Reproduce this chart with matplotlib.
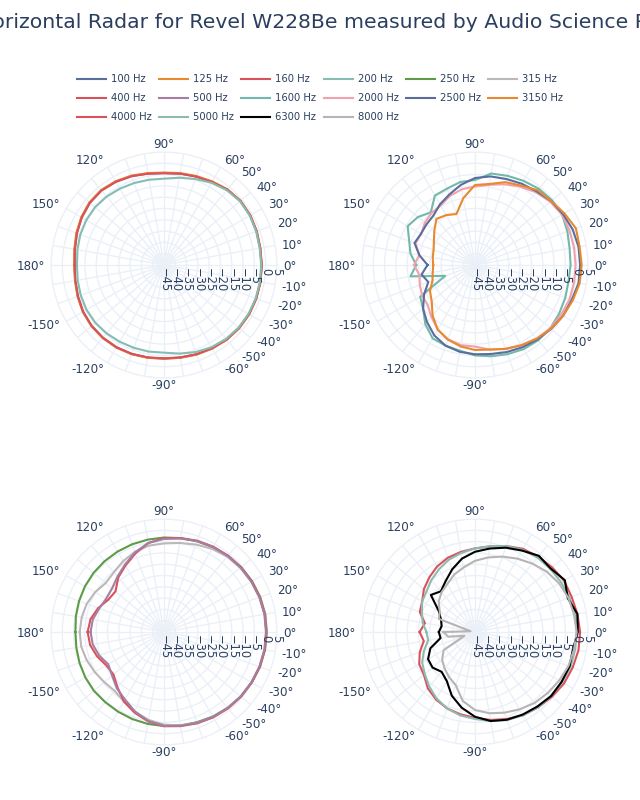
import matplotlib
matplotlib.use('Agg')
import matplotlib.pyplot as plt
from matplotlib.lines import Line2D
import numpy as np

# angles of the measurements (deg)
angles = list(range(-180, 190, 10))

# top-left: low frequencies
hz100 = [-5.4, -5.1, -4.4, -3.6, -3.1, -2.9, -2.9, -3.1, -3.4, -3.6, -3.4, -2.9, -2.4, -1.9, -1.6, -1.5, -1.6, -1.7,
         -1.8, -1.8, -1.4, -1.0, -0.9, -1.4, -2.5, -3.3, -3.9, -4.3, -3.9, -3.1, -2.4, -1.9, -2.1, -2.9, -3.9, -4.9, -5.4]
hz125 = [-5.2, -5.0, -4.3, -3.5, -3.0, -2.8, -2.8, -3.0, -3.3, -3.5, -3.3, -2.8, -2.3, -1.8, -1.5, -1.4, -1.5, -1.6,
         -1.7, -1.7, -1.3, -0.9, -0.8, -1.3, -2.3, -3.1, -3.7, -4.1, -3.7, -2.9, -2.2, -1.7, -1.9, -2.7, -3.7, -4.7, -5.2]
hz160 = [-5.5, -5.2, -4.5, -3.7, -3.2, -3.0, -3.0, -3.2, -3.5, -3.7, -3.5, -3.0, -2.5, -2.0, -1.7, -1.6, -1.6, -1.7,
         -1.8, -1.8, -1.4, -1.0, -0.9, -1.5, -2.6, -3.4, -4.0, -4.4, -4.0, -3.2, -2.5, -2.0, -2.2, -3.0, -4.0, -5.0, -5.5]
hz200 = [-6.5, -6.2, -5.8, -5.4, -5.3, -5.5, -5.8, -6.0, -6.1, -6.2, -5.2, -4.0, -3.0, -2.3, -1.9, -1.8, -1.8, -1.9,
         -2.0, -2.0, -1.6, -1.2, -1.1, -1.8, -3.0, -4.5, -5.8, -6.8, -6.7, -6.4, -6.0, -5.5, -5.2, -5.3, -5.6, -6.1, -6.5]

# top-right: 1600 - 3150 Hz
hz1600 = [-19, -16, -31, -17, -15, -10.8, -7.5, -7, -6.5, -5, -4, -3, -2, -1.5, -1.5, -2, -2.5, -3,
          -2.7, -2.5, -1.5, -0.5, -0.5, -1, -2, -3, -3.9, -7.4, -7.7, -9, -9.5, -14.6, -12, -10.6, -14, -16, -19]
hz2000 = [-18, -20, -19, -18, -17.6, -15, -12, -10, -9, -8.9, -7, -5.5, -4, -2.5, -1.5, -1, -0.5, -0.5,
          -0.5, -0.5, -0.5, -0.5, -1.5, -3, -5, -7, -9, -10.3, -11, -12.5, -14.6, -15, -16, -17.5, -17, -20, -18]
hz2500 = [-24, -21, -23, -19, -15, -12, -9, -7, -6, -5.5, -5, -4, -3, -2, -1, 0, 0.5, 1.5,
          1.5, 1.5, 1, 0, -1, -2.5, -3.5, -4.5, -5.2, -6.5, -9, -11.8, -14, -16.4, -17, -17.4, -16.5, -20, -24]
hz3150 = [-26.5, -26, -25, -22, -20, -15.8, -12, -9.9, -8.4, -7.4, -7, -5.5, -4, -2.5, -1, 0, 1, 2,
          2.2, 2, 2.5, 0.7, -1, -1.8, -4.4, -6, -8.6, -9.6, -15, -21, -19.5, -18.4, -21.5, -24, -25.5, -26, -26.5]

# bottom-left: 250 - 500 Hz
hz250 = [-5.8, -5.6, -5.2, -4.8, -4.5, -4.5, -4.3, -4.0, -3.7, -3.4, -3.0, -2.5, -1.8, -1.2, -0.6, -0.2, 0.2, 0.4,
         0.5, 0.5, 0.3, 0.0, -0.4, -1.0, -1.7, -2.3, -2.8, -3.2, -3.5, -3.7, -3.9, -4.1, -4.3, -4.6, -5.0, -5.4, -5.8]
hz315 = [-7.7, -7.8, -8.6, -9.6, -10.5, -11.0, -9.5, -7.5, -5.5, -4.0, -3.0, -2.2, -1.5, -1.0, -0.6, -0.3, 0.0, 0.2,
         0.3, 0.3, 0.0, -0.4, -0.9, -1.5, -2.5, -3.8, -5.0, -5.8, -6.2, -7.3, -8.8, -10.5, -11.3, -9.8, -8.6, -8.0, -7.7]
hz400 = [-11.2, -11.8, -13.5, -15.5, -15.8, -13.0, -9.5, -7.0, -4.8, -3.3, -2.7, -2.0, -1.4, -0.9, -0.5, -0.2, 0.1, 0.3,
         0.3, 0.3, 0.1, -0.2, -0.5, -0.9, -1.4, -2.0, -2.8, -3.5, -5.0, -8.0, -11.0, -13.5, -17.0, -16.5, -14.0, -12.0, -11.2]
hz500 = [-12.5, -13.0, -14.5, -16.5, -15.0, -12.5, -10.5, -7.5, -5.0, -3.5, -2.9, -2.2, -1.6, -1.1, -0.7, -0.4, -0.1, 0.1,
         0.1, 0.1, -0.1, -0.4, -0.7, -1.1, -1.6, -2.2, -3.0, -3.8, -5.0, -7.5, -10.5, -13.0, -15.0, -15.5, -14.5, -13.0, -12.5]

# bottom-right: 4000 - 8000 Hz
hz4000 = [-20.5, -22.0, -19.0, -16.5, -15.5, -12.5, -10.5, -9.0, -8.0, -7.0, -5.5, -4.0, -2.5, -1.5, -0.5, 0.5, 1.0, 1.5,
          1.5, 1.0, 0.5, 0.5, -0.5, -1.5, -2.5, -4.5, -6.5, -8.0, -9.0, -10.0, -11.5, -13.5, -15.5, -18.0, -19.0, -22.5, -20.5]
hz5000 = [-23.5, -24.0, -21.0, -18.0, -16.0, -13.5, -11.0, -9.0, -7.5, -6.5, -5.0, -3.5, -2.5, -1.5, -1.0, -0.5, 0.0, 0.0,
          0.0, 0.0, -0.5, -1.0, -1.5, -2.0, -3.0, -4.5, -6.5, -8.0, -9.5, -11.0, -13.0, -15.0, -17.0, -18.0, -20.0, -21.5, -23.5]
hz6300 = [-29.0, -29.5, -24.0, -21.0, -20.5, -22.0, -20.0, -15.0, -11.0, -7.5, -5.0, -3.7, -2.8, -2.0, -1.0, -0.8, -0.5, -1.0,
          0.5, 1.0, -1.3, 0.9, -1.3, -1.0, -3.4, -5.3, -7.5, -9.5, -12.0, -15.5, -19.0, -21.5, -19.5, -26.5, -29.0, -30.0, -29.0]
hz8000 = [-31.0, -33.0, -40.0, -29.0, -26.0, -24.0, -22.0, -20.0, -14.0, -10.5, -8.5, -7.0, -5.5, -4.0, -3.0, -2.0, -1.0, -0.5,
          0.0, -0.5, -1.0, -2.0, -3.5, -5.5, -7.5, -9.5, -11.5, -13.5, -16.0, -18.0, -20.5, -22.0, -24.0, -27.0, -28.0, -43.0, -31.0]

colors = {
    '100 Hz': '#5a6e9e', '125 Hz': '#e8892f', '160 Hz': '#d9525a', '200 Hz': '#86bcb2',
    '250 Hz': '#5d9b48', '315 Hz': '#bdb8b8', '400 Hz': '#d9525a', '500 Hz': '#a67ea4',
    '1600 Hz': '#72b8ab', '2000 Hz': '#f2a2ac', '2500 Hz': '#5a6e9e', '3150 Hz': '#e8892f',
    '4000 Hz': '#d9525a', '5000 Hz': '#8ebab2', '6300 Hz': '#000000', '8000 Hz': '#b8b4b4',
}

groups = [
    [('100 Hz', hz100), ('125 Hz', hz125), ('160 Hz', hz160), ('200 Hz', hz200)],
    [('1600 Hz', hz1600), ('2000 Hz', hz2000), ('2500 Hz', hz2500), ('3150 Hz', hz3150)],
    [('250 Hz', hz250), ('315 Hz', hz315), ('400 Hz', hz400), ('500 Hz', hz500)],
    [('4000 Hz', hz4000), ('5000 Hz', hz5000), ('6300 Hz', hz6300), ('8000 Hz', hz8000)],
]
legend_order = ['100 Hz', '125 Hz', '160 Hz', '200 Hz', '250 Hz', '315 Hz',
                '400 Hz', '500 Hz', '1600 Hz', '2000 Hz', '2500 Hz', '3150 Hz',
                '4000 Hz', '5000 Hz', '6300 Hz', '8000 Hz']

W, H = 640, 800
txt = '#2a3f5f'
grid = '#EBF0F8'
fig = plt.figure(figsize=(W / 100, H / 100), dpi=100)

fig.text(342 / W, 1 - 22 / H, 'Horizontal Radar for Revel W228Be measured by Audio Science Review',
         ha='center', va='center', fontsize=14.7, color=txt)

# legend drawn by hand, plotly-like row-wise layout
for i, name in enumerate(legend_order):
    row, col = divmod(i, 6)
    x0 = 77 + 82.2 * col
    y = 79 + 19 * row
    fig.add_artist(Line2D([x0 / W, (x0 + 29) / W], [1 - y / H, 1 - y / H],
                          color=colors[name], lw=1.5))
    fig.text((x0 + 34) / W, 1 - y / H, name, ha='left', va='center', fontsize=7.2, color=txt)

label_angles = [0, 10, 20, 30, 40, 50, 60, 90, 120, 150, 180, -150, -120, -90, -60, -50, -40, -30, -20, -10]

centers = [(164, 265), (475, 265), (164, 632), (475, 632)]
R = 113
th = np.deg2rad(angles)
for (cx, cy), group in zip(centers, groups):
    ax = fig.add_axes([(cx - R) / W, 1 - (cy + R) / H, 2 * R / W, 2 * R / H], projection='polar')
    ax.set_theta_zero_location('E')
    ax.set_rlim(-45, 5)
    ax.set_rticks(list(range(-45, 6, 5)))
    ax.set_yticklabels([])
    ax.set_thetagrids(list(range(0, 360, 10)), [''] * 36)
    ax.grid(color=grid, lw=1)
    ax.spines['polar'].set_color(grid)
    for name, vals in group:
        ax.plot(th, vals, color=colors[name], lw=1.5)
    # angular tick labels, anchored on the side nearest the circle
    for a in label_angles:
        c, s = np.cos(np.deg2rad(a)), np.sin(np.deg2rad(a))
        ha = 'left' if c > 0.01 else ('right' if c < -0.01 else 'center')
        d = 4.6 if abs(s) < 0.2 else 5.2
        ax.annotate('%d°' % a, xy=(np.deg2rad(a), 5), xytext=(d * c, d * s - 1.0 * (abs(s) < 0.2)),
                    textcoords='offset points', ha=ha, va='center', fontsize=8.6, color=txt,
                    annotation_clip=False)
    for v in range(-45, 6, 5):
        ax.annotate(str(v).replace('-', '\u2212'), xy=(0, v), xytext=(0, -2), textcoords='offset points',
                    rotation=-90, ha='center', va='top', fontsize=8.3, color=txt)

fig.savefig('out.png', dpi=100)
